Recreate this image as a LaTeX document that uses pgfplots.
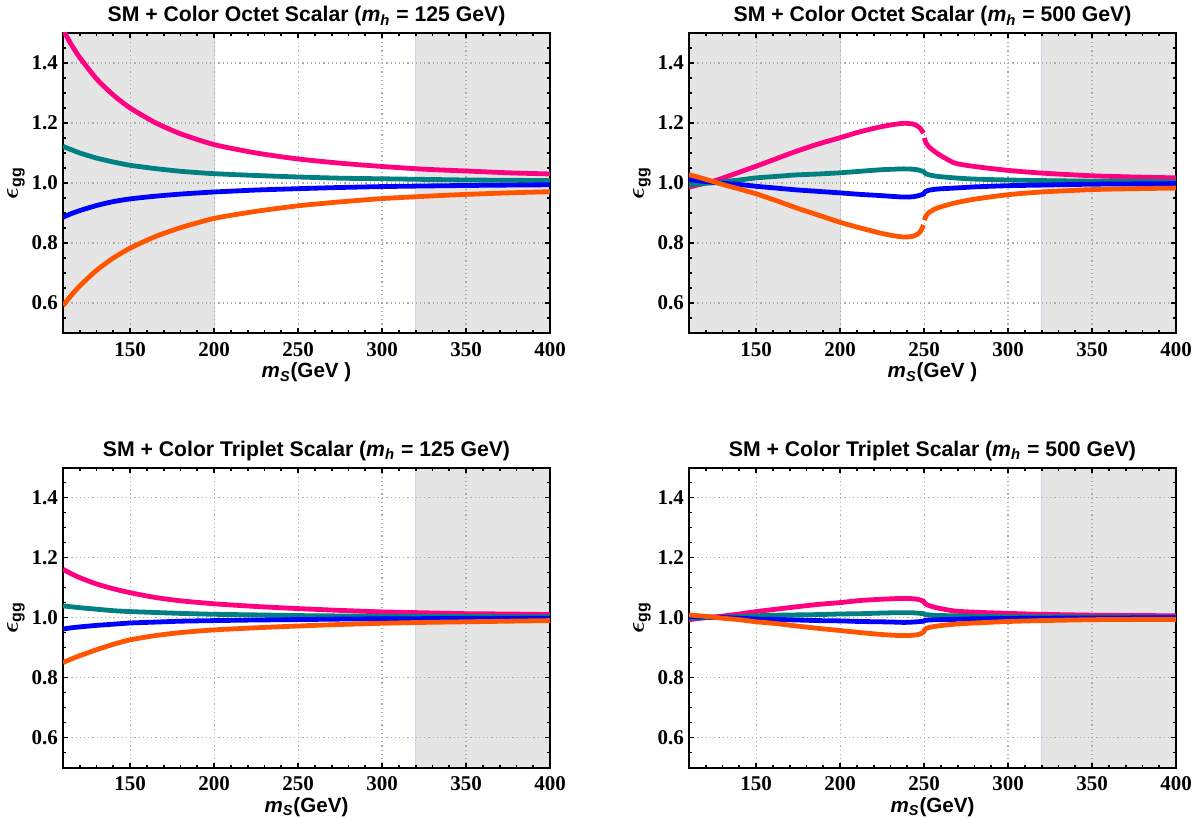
\documentclass[border=0pt]{standalone}
\usepackage{fontspec}
\setmainfont{Liberation Serif}
\setsansfont{Liberation Sans}
\usepackage{pgfplots}
\usepackage{pgfplotstable}
\pgfplotsset{compat=1.18}

\definecolor{cpink}{RGB}{255,0,128}
\definecolor{cteal}{RGB}{0,128,128}
\definecolor{cblue}{RGB}{0,0,255}
\definecolor{corange}{RGB}{255,85,0}
\definecolor{cshade}{RGB}{229,229,229}
\definecolor{cedge}{RGB}{212,212,232}

% octet, m_h = 125
\pgfplotstableread{
m     P     T      B      O
110 1.510 1.122 0.886 0.591
115 1.461 1.111 0.898 0.626
120 1.418 1.100 0.908 0.657
130 1.347 1.083 0.925 0.709
140 1.293 1.070 0.938 0.750
150 1.250 1.059 0.947 0.783
165 1.201 1.048 0.956 0.8215
180 1.164 1.039 0.963 0.851
200 1.128 1.031 0.970 0.882
225 1.100 1.025 0.9765 0.9055
250 1.080 1.020 0.981 0.924
275 1.066 1.016 0.985 0.937
300 1.055 1.014 0.988 0.948
325 1.046 1.012 0.990 0.9555
350 1.040 1.010 0.9917 0.962
375 1.034 1.009 0.993 0.967
400 1.030 1.008 0.994 0.971
}\octetA

% octet, m_h = 500
\pgfplotstableread{
m     P     T      B      O
110 0.986 0.994 1.011 1.028
120 1.000 0.999 1.005 1.012
125 1.007 1.001 1.002 1.004
130 1.016 1.004 0.999 0.995
140 1.036 1.010 0.995 0.980
150 1.056 1.017 0.989 0.964
162 1.081 1.022 0.983 0.941
174 1.106 1.027 0.977 0.917
187 1.130 1.030 0.972 0.893
200 1.151 1.034 0.967 0.869
212 1.171 1.039 0.962 0.850
224 1.187 1.044 0.958 0.833
232 1.195 1.046 0.955 0.824
238 1.199 1.047 0.953 0.820
243 1.197 1.046 0.954 0.822
246 1.190 1.044 0.957 0.829
248 1.180 1.041 0.960 0.840
249.7 1.166 1.038 0.963 0.860
250 nan 1.036 0.966 nan
250.2 1.150 1.035 0.968 0.876
251 1.135 1.031 0.972 0.889
253 1.120 1.027 0.976 0.902
258 1.098 1.022 0.980 0.917
268 1.067 1.017 0.983 0.933
280 1.055 1.013 0.987 0.946
300 1.042 1.010 0.991 0.961
320 1.033 1.008 0.993 0.970
350 1.024 1.006 0.996 0.978
375 1.020 1.005 0.997 0.981
400 1.017 1.004 0.998 0.983
}\octetB

% triplet, m_h = 125
\pgfplotstableread{
m     P     T      B      O
110 1.161 1.039 0.962 0.850
115 1.146 1.036 0.966 0.862
120 1.133 1.033 0.969 0.873
130 1.112 1.028 0.974 0.893
140 1.096 1.023 0.978 0.911
150 1.083 1.020 0.982 0.926
165 1.067 1.017 0.985 0.940
180 1.056 1.014 0.988 0.950
200 1.046 1.011 0.990 0.959
225 1.037 1.009 0.992 0.966
250 1.030 1.0067 0.9933 0.972
275 1.024 1.0055 0.995 0.977
300 1.019 1.0045 0.996 0.981
325 1.016 1.004 0.9965 0.984
350 1.013 1.0035 0.997 0.986
375 1.012 1.003 0.9975 0.988
400 1.010 1.003 0.998 0.990
}\tripletA

% triplet, m_h = 500
\pgfplotstableread{
m     P     T      B      O
110 0.993 0.998 1.003 1.009
120 1.000 1.000 1.002 1.004
125 1.002 1.000 1.001 1.001
130 1.005 1.001 1.000 0.998
140 1.012 1.003 0.998 0.993
150 1.020 1.006 0.995 0.986
162 1.028 1.008 0.994 0.980
174 1.036 1.009 0.992 0.972
187 1.044 1.010 0.990 0.964
200 1.050 1.012 0.989 0.957
212 1.057 1.013 0.987 0.950
224 1.061 1.015 0.986 0.944
232 1.063 1.016 0.985 0.941
238 1.064 1.016 0.984 0.940
243 1.063 1.016 0.985 0.941
246 1.061 1.015 0.986 0.943
248 1.058 1.014 0.987 0.946
249.7 1.054 1.013 0.988 0.952
250.2 1.049 1.011 0.990 0.958
251 1.045 1.010 0.991 0.963
253 1.040 1.009 0.992 0.967
258 1.032 1.007 0.993 0.972
268 1.022 1.006 0.994 0.978
280 1.018 1.004 0.996 0.982
300 1.014 1.003 0.997 0.987
320 1.011 1.003 0.998 0.990
350 1.008 1.002 0.9985 0.993
375 1.007 1.002 0.999 0.994
400 1.006 1.001 0.999 0.994
}\tripletB

\pgfplotsset{
  panel/.style={
    set layers=standard,
    scale only axis, width=243.5pt, height=150pt,
    anchor=south west,
    xmin=110, xmax=400, ymin=0.5, ymax=1.5,
    xtick={150,200,250,300,350,400},
    ytick={0.6,0.8,1.0,1.2,1.4},
    minor xtick={110,120,...,400},
    minor ytick={0.5,0.55,...,1.5},
    tick align=inside,
    major tick length=2.5pt, minor tick length=1.5pt,
    every tick/.style={black, line width=0.9pt},
    axis line style={line width=1pt},
    grid=major,
    grid style={gray!65, line width=0.6pt, dash pattern=on 0.6pt off 1.5pt},
    /pgf/number format/assume math mode=true,
    tick label style={font=\rmfamily\bfseries\fontsize{10.5}{12}\selectfont},
    yticklabel style={/pgf/number format/fixed, /pgf/number format/fixed zerofill,
      /pgf/number format/precision=1, xshift=1pt},
    xticklabel style={yshift=-1pt},
    title style={at={(0.5,1)}, anchor=base, yshift=-0.5pt,
      font=\sffamily\bfseries\fontsize{10.6}{12}\selectfont},
    xlabel style={at={(rel axis cs:0.5,0)}, anchor=base, yshift=-22.5pt,
      font=\sffamily\bfseries\fontsize{10.3}{12}\selectfont},
    ylabel style={at={(rel axis cs:0,0.5)}, anchor=center, yshift=23.5pt,
      font=\sffamily\bfseries\fontsize{12}{14}\selectfont},
    ylabel={{\boldmath$\epsilon$}\textsubscript{gg}},
    unbounded coords=jump,
  },
  crv/.style={line width=2.4pt, smooth, tension=0.4},
  shade/.style={draw=none, fill=cshade, on layer=axis background},
  edge/.style={cedge, line width=0.6pt, on layer=axis background},
}

\begin{document}
\begin{tikzpicture}
% top left
\begin{axis}[panel, at={(31.5pt,242.5pt)},
  title={SM + Color Octet Scalar (\textit{m}\textsubscript{\textit{h}} = 125 GeV)},
  xlabel={\textit{m}\textsubscript{\textit{S}}(GeV )}]
  \addplot[shade] coordinates {(110,0.5) (200,0.5) (200,1.5) (110,1.5)} -- cycle;
  \addplot[shade] coordinates {(320,0.5) (400,0.5) (400,1.5) (320,1.5)} -- cycle;
  \addplot[edge] coordinates {(200,0.5) (200,1.5)};
  \addplot[edge] coordinates {(320,0.5) (320,1.5)};
  \addplot[crv, cpink] table[x=m, y=P] {\octetA};
  \addplot[crv, cteal] table[x=m, y=T] {\octetA};
  \addplot[crv, cblue] table[x=m, y=B] {\octetA};
  \addplot[crv, corange] table[x=m, y=O] {\octetA};
\end{axis}

% top right
\begin{axis}[panel, at={(344.5pt,242.5pt)},
  title={SM + Color Octet Scalar (\textit{m}\textsubscript{\textit{h}} = 500 GeV)},
  xlabel={\textit{m}\textsubscript{\textit{S}}(GeV )}]
  \addplot[shade] coordinates {(110,0.5) (200,0.5) (200,1.5) (110,1.5)} -- cycle;
  \addplot[shade] coordinates {(320,0.5) (400,0.5) (400,1.5) (320,1.5)} -- cycle;
  \addplot[edge] coordinates {(200,0.5) (200,1.5)};
  \addplot[edge] coordinates {(320,0.5) (320,1.5)};
  \addplot[crv, cpink] table[x=m, y=P] {\octetB};
  \addplot[crv, cteal] table[x=m, y=T] {\octetB};
  \addplot[crv, cblue] table[x=m, y=B] {\octetB};
  \addplot[crv, corange] table[x=m, y=O] {\octetB};
\end{axis}

% bottom left
\begin{axis}[panel, at={(31.5pt,25.2pt)},
  title={SM + Color Triplet Scalar (\textit{m}\textsubscript{\textit{h}} = 125 GeV)},
  xlabel={\textit{m}\textsubscript{\textit{S}}(GeV)}]
  \addplot[shade] coordinates {(320,0.5) (400,0.5) (400,1.5) (320,1.5)} -- cycle;
  \addplot[edge] coordinates {(320,0.5) (320,1.5)};
  \addplot[crv, cpink] table[x=m, y=P] {\tripletA};
  \addplot[crv, cteal] table[x=m, y=T] {\tripletA};
  \addplot[crv, cblue] table[x=m, y=B] {\tripletA};
  \addplot[crv, corange] table[x=m, y=O] {\tripletA};
\end{axis}

% bottom right
\begin{axis}[panel, at={(344.5pt,25.2pt)},
  title={SM + Color Triplet Scalar (\textit{m}\textsubscript{\textit{h}} = 500 GeV)},
  xlabel={\textit{m}\textsubscript{\textit{S}}(GeV)}]
  \addplot[shade] coordinates {(320,0.5) (400,0.5) (400,1.5) (320,1.5)} -- cycle;
  \addplot[edge] coordinates {(320,0.5) (320,1.5)};
  \addplot[crv, cpink] table[x=m, y=P] {\tripletB};
  \addplot[crv, cteal] table[x=m, y=T] {\tripletB};
  \addplot[crv, cblue] table[x=m, y=B] {\tripletB};
  \addplot[crv, corange] table[x=m, y=O] {\tripletB};
\end{axis}

\pgfresetboundingbox
\path (0,0) rectangle (600pt,409pt);
\end{tikzpicture}
\end{document}
